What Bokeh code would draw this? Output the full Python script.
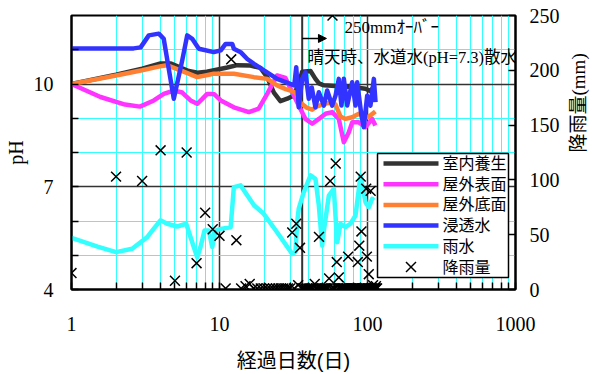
import math
from bokeh.plotting import figure
from bokeh.models import (Range1d, LinearAxis, FixedTicker, Label, Arrow, NormalHead, Span,
                          BasicTickFormatter, BoxAnnotation)
from bokeh.embed import file_html
from bokeh.resources import INLINE

# ---------------- data ----------------
# 室内養生
days_indoor = [1, 2, 3, 4, 4.7, 5.3, 6.2, 7.1, 8.2, 9.2, 11.3, 13.2, 16.2, 18.9, 21.0, 23.3,
               25.8, 28.7, 31.6, 34.3, 36.2, 41.2, 44.5, 47, 50.7, 60.8, 78.8, 96.9, 104, 112]
ph_indoor = [10.0, 10.27, 10.45, 10.6, 10.6, 10.5, 10.38, 10.33, 10.36, 10.4, 10.48, 10.55,
             10.54, 10.47, 10.2, 9.75, 9.5, 9.57, 9.66, 10.0, 10.36, 10.38, 10.15, 10.02,
             9.96, 9.94, 9.91, 9.86, 9.8, 9.93]

# 屋外表面
days_surface = [1, 1.57, 2.3, 2.9, 3.6, 4.2, 4.9, 5.6, 6.37, 7.07, 7.6, 8.26, 9.15, 10.2,
                12.5, 15.8, 18.4, 21, 24.5, 27.9, 31, 34.3, 38.1, 42.3, 46.9, 52, 57.7, 64,
                69.2, 74.8, 78.8, 87.4, 96.9, 107.6, 113]
ph_surface = [10.0, 9.62, 9.4, 9.34, 9.52, 9.71, 9.81, 9.75, 9.52, 9.42, 9.55, 9.71, 9.71,
              9.52, 9.32, 9.18, 9.28, 9.71, 10.25, 10.18, 9.76, 9.37, 8.98, 8.84, 8.98, 9.13,
              9.18, 8.98, 8.3, 8.59, 8.88, 8.88, 8.74, 8.98, 8.79]

# 屋外底面
days_bottom = [1, 2, 3, 3.8, 4.4, 5.45, 7.07, 9.15, 12.5, 17.1, 21, 24.5, 28, 30.2, 32.6,
               35.3, 39.1, 42.3, 45.7, 49.4, 54.8, 60.8, 65.7, 71, 78.8, 87.4, 99.5, 106, 113]
ph_bottom = [10.0, 10.25, 10.4, 10.5, 10.55, 10.4, 10.2, 10.3, 10.3, 10.2, 10.15, 9.96, 9.85,
             9.81, 9.75, 9.45, 9.3, 9.25, 9.35, 9.4, 9.45, 9.4, 9.05, 8.98, 9.03, 9.13, 9.03,
             9.1, 9.2]

# 浸透水
days_seep = [1, 2.63, 2.93, 3.33, 3.89, 4.2, 4.91, 5.6, 6.05, 6.54, 7.25, 9.15, 10.2, 11.0,
             12.2, 12.5, 13.9, 15.4, 17.1, 24.5, 32.0, 33.0, 34.3, 36.2, 38.1, 40.1, 42.0,
             44.5, 46.9, 50.7, 53.4, 57.7, 60.8, 64, 66.7, 69.2, 72.9, 78.8, 83, 85.2, 91,
             94.4, 99.5, 104.7, 110.4, 113.3]
ph_seep = [11.04, 11.04, 11.07, 11.42, 11.47, 11.32, 9.57, 10.69, 11.42, 11.32, 11.03, 10.93,
           10.98, 11.17, 11.17, 11.03, 10.93, 10.73, 10.59, 10.15, 9.96, 10.49, 9.32, 10.15,
           10.34, 9.57, 9.9, 9.32, 9.76, 9.37, 9.81, 9.37, 9.66, 10.15, 9.37, 10.15, 9.37,
           10.05, 9.37, 10.05, 9.08, 8.74, 9.66, 9.37, 10.15, 9.47]

# 雨水
days_rain = [1, 1.5, 2.0, 2.57, 3.25, 3.51, 3.99, 4.43, 5.18, 5.96, 6.7, 7.07, 7.44, 7.92,
             8.47, 8.93, 9.4, 10.2, 11.9, 12.5, 13.9, 14.6, 17.1, 19.9, 24.5, 31, 32.6, 33.5,
             34.3, 37.1, 41.2, 44.5, 46.9, 49.4, 50.7, 54.8, 59.2, 62.4, 65.7, 71, 76.7, 83,
             89.7, 96.9, 102, 107.6, 110]
ph_rain = [5.51, 5.25, 5.09, 5.19, 5.53, 5.72, 6.02, 5.92, 5.84, 5.92, 5.24, 4.94, 5.24, 5.72,
           5.72, 5.24, 5.72, 5.77, 5.82, 6.99, 7.04, 6.9, 6.46, 6.21, 5.67, 5.04, 5.1, 5.97,
           6.36, 6.84, 7.33, 7.23, 6.45, 5.28, 5.72, 6.74, 6.94, 5.38, 5.92, 5.82, 5.92, 6.16,
           7.33, 6.55, 6.4, 6.65, 6.6]

# 降雨量 (daily, mm)
rain_day = [1, 2, 3, 4, 5, 6, 7, 8, 9, 10, 11, 12, 13, 14, 15, 16, 17, 18, 19, 20,
            21, 22, 23, 24, 25, 26, 27, 28, 29, 30, 31, 32, 33, 34, 35, 36, 37, 38, 39, 40,
            41, 42, 43, 44, 45, 46, 47, 48, 49, 50, 51, 52, 53, 54, 55, 56, 57, 58, 59, 60,
            61, 62, 63, 64, 65, 66, 67, 68, 69, 70, 71, 72, 73, 74, 75, 76, 77, 78, 79, 80,
            81, 82, 83, 84, 85, 86, 87, 88, 89, 90, 91, 92, 93, 94, 95, 96, 97, 98, 99, 100,
            101, 102, 103, 104, 105, 106, 107, 108, 109, 110, 111, 112, 113, 114, 115, 116]
rain_mm = [15, 103, 99, 127, 8, 125, 24, 70, 55, 49, 1, 210, 45, 1, 3, 5, 1, 1, 1, 1,
           1, 1, 1, 1, 1, 1, 1, 1, 1, 1, 52, 1, 60, 4, 38, 1, 1, 1, 1, 1,
           1, 1, 1, 5, 1, 1, 48, 1, 1, 1, 1, 1, 1, 1, 10, 99, 1, 250, 1, 1,
           115, 25, 1, 11, 1, 1, 1, 1, 1, 1, 1, 1, 1, 30, 1, 1, 1, 1, 1, 1,
           1, 1, 1, 1, 1, 25, 1, 40, 1, 103, 53, 1, 1, 1, 1, 1, 1, 92, 30, 1,
           1, 14, 1, 1, 90, 1, 1, 1, 4, 1, 1, 1, 1, 3, 1, 1]

series_names = ["室内養生", "屋外表面", "屋外底面", "浸透水", "雨水"]
series_colors = ["#333333", "#ff33ff", "#ff8033", "#3333ff", "#33ffff"]
rain_name = "降雨量"

x_major = [1, 10, 100, 1000]
x_labels = ["1", "10", "100", "1000"]
x_minor = [2, 3, 4, 5, 6, 7, 8, 9, 20, 30, 40, 50, 60, 70, 80, 90,
           200, 300, 400, 500, 600, 700, 800, 900]
y_major = [4, 7, 10]
y_minor = [5, 6, 8, 9, 11]
y_grid_major = [7, 10]
rain_ticks = [0, 50, 100, 150, 200, 250]

sprinkle_start_day = 36.2
note_over = "250mmｵｰﾊﾞｰ"
note_sprinkle = "晴天時、水道水(pH=7.3)散水"

# ---------------- figure ----------------
SERIF = "'Liberation Serif', 'Noto Sans CJK JP'"
SANS = "'Liberation Sans', 'Noto Sans CJK JP'"

p = figure(width=604, height=374, x_axis_type="log",
           x_range=Range1d(1, 1000), y_range=Range1d(4, 12),
           output_backend="svg", toolbar_location=None,
           min_border_left=71, min_border_right=89, min_border_top=15, min_border_bottom=85)
p.extra_y_ranges = {"rain": Range1d(0, 250)}
p.outline_line_color = "black"
p.outline_line_width = 2
p.background_fill_color = "white"
p.border_fill_color = "white"

# x axis
xt = FixedTicker(ticks=x_major, minor_ticks=x_minor)
xa = p.xaxis[0]
xa.ticker = xt
xa.formatter = BasicTickFormatter()
xa.major_label_overrides = {t: s for t, s in zip(x_major, x_labels)}
xa.axis_label = "経過日数(日)"
xa.axis_label_text_font = SANS
xa.axis_label_text_font_size = "20px"
xa.axis_label_text_font_style = "normal"
xa.axis_label_text_color = "black"
xa.axis_label_standoff = 16
xa.major_label_text_font = SERIF
xa.major_label_text_font_size = "20px"
xa.major_label_text_color = "black"
xa.major_label_standoff = 27
xa.major_tick_in = 7
xa.major_tick_out = 0
xa.minor_tick_in = 7
xa.minor_tick_out = 0
xa.axis_line_width = 2
xa.axis_line_color = "black"
xa.major_tick_line_width = 1.5
xa.minor_tick_line_width = 1.5

# left axis
ya = p.yaxis[0]
ya.ticker = FixedTicker(ticks=y_major, minor_ticks=y_minor)
ya.axis_label = "pH"
ya.axis_label_text_font = SERIF
ya.axis_label_text_font_size = "20px"
ya.axis_label_text_font_style = "normal"
ya.axis_label_text_color = "black"
ya.axis_label_standoff = 4
ya.major_label_text_font = SERIF
ya.major_label_text_font_size = "20px"
ya.major_label_text_color = "black"
ya.major_label_standoff = 18
ya.major_tick_in = 7
ya.major_tick_out = 0
ya.minor_tick_in = 7
ya.minor_tick_out = 0
ya.axis_line_width = 2
ya.axis_line_color = "black"
ya.major_tick_line_width = 1.5
ya.minor_tick_line_width = 1.5

# right axis
ra = LinearAxis(y_range_name="rain", ticker=FixedTicker(ticks=rain_ticks))
ra.major_label_text_font = SERIF
ra.major_label_text_font_size = "20px"
ra.major_label_text_color = "black"
ra.major_label_standoff = 14
ra.major_tick_in = 7
ra.major_tick_out = 0
ra.minor_tick_in = 0
ra.minor_tick_out = 0
ra.axis_line_width = 2
ra.axis_line_color = "black"
ra.major_tick_line_width = 1.5
ra.axis_label = "降雨量(mm)"
ra.axis_label_text_font = SERIF
ra.axis_label_text_font_size = "19px"
ra.axis_label_text_font_style = "normal"
ra.axis_label_text_color = "black"
ra.axis_label_standoff = 16
if "axis_label_orientation" in ra.properties():
    ra.axis_label_orientation = math.pi / 2
p.add_layout(ra, "right")

# grids
p.xgrid.ticker = xt
p.xgrid.grid_line_color = "#333333"
p.xgrid.grid_line_width = 1.5
p.xgrid.minor_grid_line_color = "#33ffff"
p.xgrid.minor_grid_line_width = 1
p.ygrid.ticker = FixedTicker(ticks=y_grid_major, minor_ticks=y_minor)
p.ygrid.grid_line_color = "#333333"
p.ygrid.grid_line_width = 1.5
p.ygrid.minor_grid_line_color = "#33ffff"
p.ygrid.minor_grid_line_width = 1

p.add_layout(Span(location=sprinkle_start_day, dimension="height",
                  line_color="#333333", line_width=2, level="underlay"))

# data
renderers = []
for xs, ys, col in zip([days_indoor, days_surface, days_bottom, days_seep, days_rain],
                       [ph_indoor, ph_surface, ph_bottom, ph_seep, ph_rain],
                       series_colors):
    r = p.line(xs, ys, line_color=col, line_width=4.5, line_join="round")
    renderers.append(r)

r_rain = p.scatter(rain_day, rain_mm, y_range_name="rain", marker="x", size=14,
                   line_color="black", line_width=1.5)

# annotations
p.add_layout(Arrow(end=NormalHead(size=8, fill_color="black", line_color="black"),
                   x_start=sprinkle_start_day, y_start=11.33, x_end=52.8, y_end=11.33,
                   line_color="black", line_width=1.5))
p.add_layout(Label(x=70, y=11.65, text=note_over, text_align="left", text_baseline="middle",
                   text_font=SERIF, text_font_size="17px", text_color="black"))
p.add_layout(Label(x=39.3, y=10.77, text=note_sprinkle, text_align="left",
                   text_baseline="middle", text_font=SERIF, text_font_size="16.5px",
                   text_color="black"))

# legend box (screen px, relative to the plot frame's bottom-left corner)
BOX_L, BOX_R, BOX_B, BOX_T = 306, 437, 12, 136
ROW0, ROW_STEP = 126, 20.7
SW_L, SW_R, TXT_X = 312, 367, 371
p.add_layout(BoxAnnotation(left=BOX_L, right=BOX_R, bottom=BOX_B, top=BOX_T,
                           left_units="screen", right_units="screen",
                           bottom_units="screen", top_units="screen",
                           fill_color="white", fill_alpha=1,
                           line_color="black", line_width=1.5, line_alpha=1))
all_names = series_names + [rain_name]
for i, name in enumerate(all_names):
    yc = ROW0 - i * ROW_STEP
    if i < len(series_colors):
        p.add_layout(Arrow(end=None, x_start=SW_L, x_end=SW_R, y_start=yc, y_end=yc,
                           start_units="screen", end_units="screen",
                           line_color=series_colors[i], line_width=4.5))
    else:
        cx, h = (SW_L + SW_R) / 2, 5
        p.add_layout(Arrow(end=None, x_start=cx - h, x_end=cx + h, y_start=yc - h,
                           y_end=yc + h, start_units="screen", end_units="screen",
                           line_color="black", line_width=1.5))
        p.add_layout(Arrow(end=None, x_start=cx - h, x_end=cx + h, y_start=yc + h,
                           y_end=yc - h, start_units="screen", end_units="screen",
                           line_color="black", line_width=1.5))
    p.add_layout(Label(x=TXT_X, y=yc, x_units="screen", y_units="screen",
                       text=name, text_align="left", text_baseline="middle",
                       text_font=SANS, text_font_size="16px", text_color="black"))

open("out.html", "w").write(file_html(p, INLINE))
